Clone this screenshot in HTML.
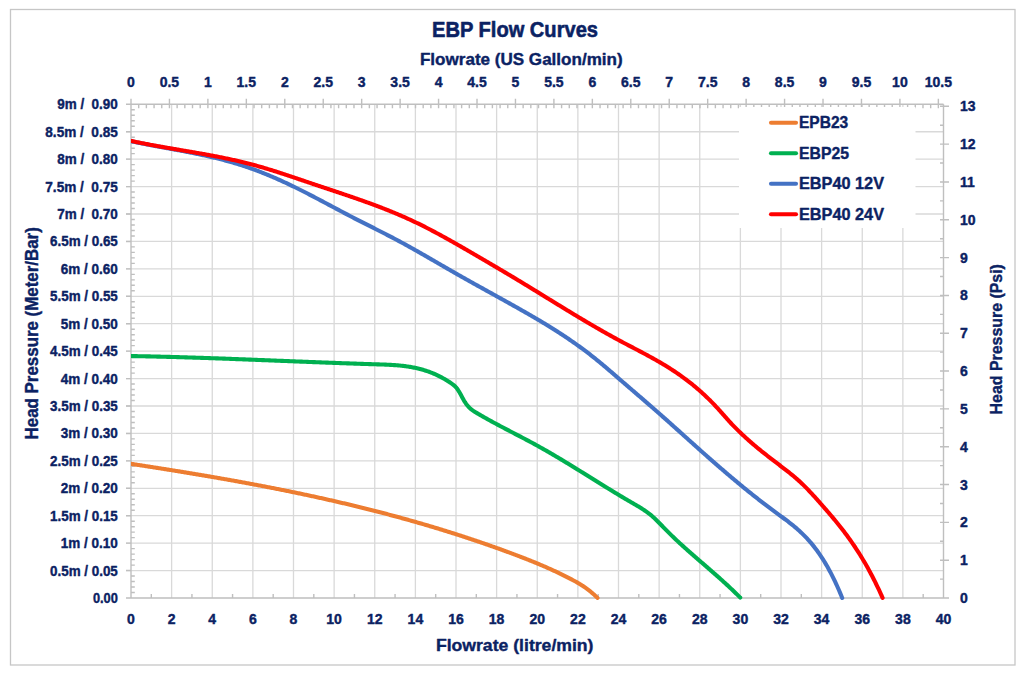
<!DOCTYPE html>
<html><head><meta charset="utf-8"><title>EBP Flow Curves</title>
<style>html,body{margin:0;padding:0;background:#fff;width:1024px;height:675px;overflow:hidden}</style>
</head><body>
<svg width="1024" height="675" viewBox="0 0 1024 675" style="display:block">
<rect x="0" y="0" width="1024" height="675" fill="#fff"/>
<rect x="10.5" y="9.5" width="1004.5" height="655.5" fill="none" stroke="#c6c6c6" stroke-width="1.3"/>
<path d="M171.62 104.30V598.00M212.25 104.30V598.00M252.88 104.30V598.00M293.50 104.30V598.00M334.12 104.30V598.00M374.75 104.30V598.00M415.38 104.30V598.00M456.00 104.30V598.00M496.62 104.30V598.00M537.25 104.30V598.00M577.88 104.30V598.00M618.50 104.30V598.00M659.12 104.30V598.00M699.75 104.30V598.00M740.38 104.30V598.00M781.00 104.30V598.00M821.62 104.30V598.00M862.25 104.30V598.00M902.88 104.30V598.00M126.00 570.57H943.50M126.00 543.14H943.50M126.00 515.72H943.50M126.00 488.29H943.50M126.00 460.86H943.50M126.00 433.43H943.50M126.00 406.01H943.50M126.00 378.58H943.50M126.00 351.15H943.50M126.00 323.72H943.50M126.00 296.29H943.50M126.00 268.87H943.50M126.00 241.44H943.50M126.00 214.01H943.50M126.00 186.58H943.50M126.00 159.16H943.50M126.00 131.73H943.50" stroke="#d9d9d9" stroke-width="1.3" fill="none"/>
<path d="M131.00 103.70V598.60M131.00 592.51h3.8M131.00 587.03h3.8M131.00 581.54h3.8M131.00 576.06h3.8M131.00 565.09h3.8M131.00 559.60h3.8M131.00 554.12h3.8M131.00 548.63h3.8M131.00 537.66h3.8M131.00 532.17h3.8M131.00 526.69h3.8M131.00 521.20h3.8M131.00 510.23h3.8M131.00 504.75h3.8M131.00 499.26h3.8M131.00 493.77h3.8M131.00 482.80h3.8M131.00 477.32h3.8M131.00 471.83h3.8M131.00 466.35h3.8M131.00 455.38h3.8M131.00 449.89h3.8M131.00 444.40h3.8M131.00 438.92h3.8M131.00 427.95h3.8M131.00 422.46h3.8M131.00 416.98h3.8M131.00 411.49h3.8M131.00 400.52h3.8M131.00 395.03h3.8M131.00 389.55h3.8M131.00 384.06h3.8M131.00 373.09h3.8M131.00 367.61h3.8M131.00 362.12h3.8M131.00 356.64h3.8M131.00 345.66h3.8M131.00 340.18h3.8M131.00 334.69h3.8M131.00 329.21h3.8M131.00 318.24h3.8M131.00 312.75h3.8M131.00 307.27h3.8M131.00 301.78h3.8M131.00 290.81h3.8M131.00 285.32h3.8M131.00 279.84h3.8M131.00 274.35h3.8M131.00 263.38h3.8M131.00 257.90h3.8M131.00 252.41h3.8M131.00 246.92h3.8M131.00 235.95h3.8M131.00 230.47h3.8M131.00 224.98h3.8M131.00 219.50h3.8M131.00 208.53h3.8M131.00 203.04h3.8M131.00 197.55h3.8M131.00 192.07h3.8M131.00 181.10h3.8M131.00 175.61h3.8M131.00 170.13h3.8M131.00 164.64h3.8M131.00 153.67h3.8M131.00 148.18h3.8M131.00 142.70h3.8M131.00 137.21h3.8M131.00 126.24h3.8M131.00 120.76h3.8M131.00 115.27h3.8M131.00 109.79h3.8M126.00 598.00H131.00M126.00 570.57H131.00M126.00 543.14H131.00M126.00 515.72H131.00M126.00 488.29H131.00M126.00 460.86H131.00M126.00 433.43H131.00M126.00 406.01H131.00M126.00 378.58H131.00M126.00 351.15H131.00M126.00 323.72H131.00M126.00 296.29H131.00M126.00 268.87H131.00M126.00 241.44H131.00M126.00 214.01H131.00M126.00 186.58H131.00M126.00 159.16H131.00M126.00 131.73H131.00M126.00 104.30H131.00M126.00 598.00H943.50M151.31 598.00v-4M191.94 598.00v-4M232.56 598.00v-4M273.19 598.00v-4M313.81 598.00v-4M354.44 598.00v-4M395.06 598.00v-4M435.69 598.00v-4M476.31 598.00v-4M516.94 598.00v-4M557.56 598.00v-4M598.19 598.00v-4M638.81 598.00v-4M679.44 598.00v-4M720.06 598.00v-4M760.69 598.00v-4M801.31 598.00v-4M841.94 598.00v-4M882.56 598.00v-4M923.19 598.00v-4M131.00 104.30H943.50M131.00 98.80V108.30M138.69 104.30v4M146.38 104.30v4M154.07 104.30v4M161.76 104.30v4M169.45 98.80V108.30M177.13 104.30v4M184.82 104.30v4M192.51 104.30v4M200.20 104.30v4M207.89 98.80V108.30M215.58 104.30v4M223.27 104.30v4M230.96 104.30v4M238.65 104.30v4M246.34 98.80V108.30M254.03 104.30v4M261.71 104.30v4M269.40 104.30v4M277.09 104.30v4M284.78 98.80V108.30M292.47 104.30v4M300.16 104.30v4M307.85 104.30v4M315.54 104.30v4M323.23 98.80V108.30M330.92 104.30v4M338.61 104.30v4M346.30 104.30v4M353.98 104.30v4M361.67 98.80V108.30M369.36 104.30v4M377.05 104.30v4M384.74 104.30v4M392.43 104.30v4M400.12 98.80V108.30M407.81 104.30v4M415.50 104.30v4M423.19 104.30v4M430.88 104.30v4M438.56 98.80V108.30M446.25 104.30v4M453.94 104.30v4M461.63 104.30v4M469.32 104.30v4M477.01 98.80V108.30M484.70 104.30v4M492.39 104.30v4M500.08 104.30v4M507.77 104.30v4M515.46 98.80V108.30M523.14 104.30v4M530.83 104.30v4M538.52 104.30v4M546.21 104.30v4M553.90 98.80V108.30M561.59 104.30v4M569.28 104.30v4M576.97 104.30v4M584.66 104.30v4M592.35 98.80V108.30M600.04 104.30v4M607.73 104.30v4M615.41 104.30v4M623.10 104.30v4M630.79 98.80V108.30M638.48 104.30v4M646.17 104.30v4M653.86 104.30v4M661.55 104.30v4M669.24 98.80V108.30M676.93 104.30v4M684.62 104.30v4M692.31 104.30v4M699.99 104.30v4M707.68 98.80V108.30M715.37 104.30v4M723.06 104.30v4M730.75 104.30v4M738.44 104.30v4M746.13 98.80V108.30M753.82 104.30v4M761.51 104.30v4M769.20 104.30v4M776.89 104.30v4M784.57 98.80V108.30M792.26 104.30v4M799.95 104.30v4M807.64 104.30v4M815.33 104.30v4M823.02 98.80V108.30M830.71 104.30v4M838.40 104.30v4M846.09 104.30v4M853.78 104.30v4M861.47 98.80V108.30M869.15 104.30v4M876.84 104.30v4M884.53 104.30v4M892.22 104.30v4M899.91 98.80V108.30M907.60 104.30v4M915.29 104.30v4M922.98 104.30v4M930.67 104.30v4M938.36 98.80V108.30M943.50 104.30V598.00M940.00 598.00H949.00M940.00 579.09H943.50M940.00 560.18H949.00M940.00 541.27H943.50M940.00 522.36H949.00M940.00 503.45H943.50M940.00 484.54H949.00M940.00 465.62H943.50M940.00 446.71H949.00M940.00 427.80H943.50M940.00 408.89H949.00M940.00 389.98H943.50M940.00 371.07H949.00M940.00 352.16H943.50M940.00 333.25H949.00M940.00 314.34H943.50M940.00 295.43H949.00M940.00 276.52H943.50M940.00 257.61H949.00M940.00 238.69H943.50M940.00 219.78H949.00M940.00 200.87H943.50M940.00 181.96H949.00M940.00 163.05H943.50M940.00 144.14H949.00M940.00 125.23H943.50M940.00 106.32H949.00" stroke="#bfbfbf" stroke-width="1.4" fill="none"/>
<rect x="739" y="107" width="176.5" height="121" fill="#fff"/>
<clipPath id="pc"><rect x="131.00" y="95" width="817.50" height="505.00"/></clipPath>
<g fill="none" stroke-width="4.1" stroke-linecap="round" stroke-linejoin="round" clip-path="url(#pc)">
<path d="M131.00 463.84 L132.00 463.99 L133.00 464.14 L134.00 464.30 L135.00 464.45 L136.00 464.60 L137.00 464.76 L138.00 464.91 L139.00 465.07 L140.00 465.22 L141.00 465.38 L142.00 465.53 L143.00 465.68 L144.00 465.84 L145.00 465.99 L146.00 466.15 L147.00 466.31 L148.00 466.46 L149.00 466.62 L150.00 466.77 L151.00 466.93 L152.00 467.09 L153.00 467.24 L154.00 467.40 L155.00 467.56 L156.00 467.71 L157.00 467.87 L158.00 468.03 L159.00 468.19 L160.00 468.35 L161.00 468.50 L162.00 468.66 L163.00 468.82 L164.00 468.98 L165.00 469.14 L166.00 469.30 L167.00 469.46 L168.00 469.62 L169.00 469.78 L170.00 469.94 L171.00 470.10 L172.00 470.26 L173.00 470.42 L174.00 470.58 L175.00 470.74 L176.00 470.91 L177.00 471.07 L178.00 471.23 L179.00 471.39 L180.00 471.55 L181.00 471.72 L182.00 471.88 L183.00 472.04 L184.00 472.21 L185.00 472.37 L186.00 472.54 L187.00 472.70 L188.00 472.87 L189.00 473.03 L190.00 473.20 L191.00 473.36 L192.00 473.53 L193.00 473.69 L194.00 473.86 L195.00 474.03 L196.00 474.19 L197.00 474.36 L198.00 474.53 L199.00 474.70 L200.00 474.87 L201.00 475.03 L202.00 475.20 L203.00 475.37 L204.00 475.54 L205.00 475.71 L206.00 475.88 L207.00 476.05 L208.00 476.22 L209.00 476.39 L210.00 476.57 L211.00 476.74 L212.00 476.91 L213.00 477.08 L214.00 477.25 L215.00 477.43 L216.00 477.60 L217.00 477.77 L218.00 477.95 L219.00 478.12 L220.00 478.30 L221.00 478.47 L222.00 478.65 L223.00 478.82 L224.00 479.00 L225.00 479.18 L226.00 479.35 L227.00 479.53 L228.00 479.71 L229.00 479.89 L230.00 480.06 L231.00 480.24 L232.00 480.42 L233.00 480.60 L234.00 480.78 L235.00 480.96 L236.00 481.14 L237.00 481.32 L238.00 481.50 L239.00 481.69 L240.00 481.87 L241.00 482.05 L242.00 482.23 L243.00 482.42 L244.00 482.60 L245.00 482.79 L246.00 482.97 L247.00 483.15 L248.00 483.34 L249.00 483.53 L250.00 483.71 L251.00 483.90 L252.00 484.09 L253.00 484.27 L254.00 484.46 L255.00 484.65 L256.00 484.84 L257.00 485.03 L258.00 485.22 L259.00 485.41 L260.00 485.60 L261.00 485.79 L262.00 485.98 L263.00 486.17 L264.00 486.36 L265.00 486.55 L266.00 486.75 L267.00 486.94 L268.00 487.14 L269.00 487.33 L270.00 487.52 L271.00 487.72 L272.00 487.92 L273.00 488.11 L274.00 488.31 L275.00 488.51 L276.00 488.70 L277.00 488.90 L278.00 489.10 L279.00 489.30 L280.00 489.50 L281.00 489.70 L282.00 489.90 L283.00 490.10 L284.00 490.30 L285.00 490.50 L286.00 490.71 L287.00 490.91 L288.00 491.11 L289.00 491.32 L290.00 491.52 L291.00 491.73 L292.00 491.93 L293.00 492.14 L294.00 492.34 L295.00 492.55 L296.00 492.76 L297.00 492.97 L298.00 493.18 L299.00 493.38 L300.00 493.59 L301.00 493.80 L302.00 494.01 L303.00 494.23 L304.00 494.44 L305.00 494.65 L306.00 494.86 L307.00 495.08 L308.00 495.29 L309.00 495.50 L310.00 495.72 L311.00 495.94 L312.00 496.15 L313.00 496.37 L314.00 496.59 L315.00 496.80 L316.00 497.02 L317.00 497.24 L318.00 497.46 L319.00 497.68 L320.00 497.90 L321.00 498.12 L322.00 498.34 L323.00 498.57 L324.00 498.79 L325.00 499.01 L326.00 499.24 L327.00 499.46 L328.00 499.69 L329.00 499.91 L330.00 500.14 L331.00 500.37 L332.00 500.59 L333.00 500.82 L334.00 501.05 L335.00 501.28 L336.00 501.51 L337.00 501.74 L338.00 501.97 L339.00 502.20 L340.00 502.44 L341.00 502.67 L342.00 502.90 L343.00 503.14 L344.00 503.37 L345.00 503.61 L346.00 503.84 L347.00 504.08 L348.00 504.32 L349.00 504.56 L350.00 504.80 L351.00 505.04 L352.00 505.28 L353.00 505.52 L354.00 505.76 L355.00 506.00 L356.00 506.24 L357.00 506.49 L358.00 506.73 L359.00 506.97 L360.00 507.22 L361.00 507.47 L362.00 507.71 L363.00 507.96 L364.00 508.21 L365.00 508.46 L366.00 508.71 L367.00 508.96 L368.00 509.21 L369.00 509.46 L370.00 509.71 L371.00 509.96 L372.00 510.22 L373.00 510.47 L374.00 510.73 L375.00 510.98 L376.00 511.24 L377.00 511.49 L378.00 511.75 L379.00 512.01 L380.00 512.27 L381.00 512.53 L382.00 512.79 L383.00 513.05 L384.00 513.31 L385.00 513.58 L386.00 513.84 L387.00 514.10 L388.00 514.37 L389.00 514.63 L390.00 514.90 L391.00 515.17 L392.00 515.43 L393.00 515.70 L394.00 515.97 L395.00 516.24 L396.00 516.51 L397.00 516.78 L398.00 517.06 L399.00 517.33 L400.00 517.60 L401.00 517.88 L402.00 518.15 L403.00 518.43 L404.00 518.71 L405.00 518.98 L406.00 519.26 L407.00 519.54 L408.00 519.82 L409.00 520.10 L410.00 520.38 L411.00 520.66 L412.00 520.95 L413.00 521.23 L414.00 521.51 L415.00 521.80 L416.00 522.09 L417.00 522.37 L418.00 522.66 L419.00 522.95 L420.00 523.24 L421.00 523.53 L422.00 523.82 L423.00 524.11 L424.00 524.40 L425.00 524.70 L426.00 524.99 L427.00 525.29 L428.00 525.58 L429.00 525.88 L430.00 526.17 L431.00 526.47 L432.00 526.77 L433.00 527.07 L434.00 527.37 L435.00 527.67 L436.00 527.98 L437.00 528.28 L438.00 528.58 L439.00 528.89 L440.00 529.19 L441.00 529.50 L442.00 529.81 L443.00 530.12 L444.00 530.42 L445.00 530.73 L446.00 531.05 L447.00 531.36 L448.00 531.67 L449.00 531.98 L450.00 532.30 L451.00 532.61 L452.00 532.93 L453.00 533.24 L454.00 533.56 L455.00 533.88 L456.00 534.20 L457.00 534.52 L458.00 534.84 L459.00 535.16 L460.00 535.49 L461.00 535.81 L462.00 536.14 L463.00 536.46 L464.00 536.79 L465.00 537.12 L466.00 537.44 L467.00 537.77 L468.00 538.10 L469.00 538.43 L470.00 538.77 L471.00 539.10 L472.00 539.43 L473.00 539.77 L474.00 540.10 L475.00 540.44 L476.00 540.78 L477.00 541.12 L478.00 541.46 L479.00 541.80 L480.00 542.14 L481.00 542.48 L482.00 542.82 L483.00 543.17 L484.00 543.51 L485.00 543.86 L486.00 544.20 L487.00 544.55 L488.00 544.90 L489.00 545.25 L490.00 545.60 L491.00 545.95 L492.00 546.31 L493.00 546.66 L494.00 547.01 L495.00 547.37 L496.00 547.73 L497.00 548.08 L498.00 548.44 L499.00 548.80 L500.00 549.16 L501.00 549.52 L502.00 549.89 L503.00 550.25 L504.00 550.61 L505.00 550.98 L506.00 551.35 L507.00 551.71 L508.00 552.08 L509.00 552.45 L510.00 552.82 L511.00 553.19 L512.00 553.56 L513.00 553.94 L514.00 554.31 L515.00 554.69 L516.00 555.06 L517.00 555.44 L518.00 555.82 L519.00 556.20 L520.00 556.58 L521.00 556.97 L522.00 557.35 L523.00 557.74 L524.00 558.13 L525.00 558.52 L526.00 558.91 L527.00 559.30 L528.00 559.70 L529.00 560.09 L530.00 560.49 L531.00 560.89 L532.00 561.29 L533.00 561.70 L534.00 562.11 L535.00 562.52 L536.00 562.93 L537.00 563.34 L538.00 563.76 L539.00 564.17 L540.00 564.59 L541.00 565.02 L542.00 565.44 L543.00 565.87 L544.00 566.30 L545.00 566.74 L546.00 567.17 L547.00 567.61 L548.00 568.05 L549.00 568.50 L550.00 568.95 L551.00 569.40 L552.00 569.85 L553.00 570.31 L554.00 570.77 L555.00 571.23 L556.00 571.70 L557.00 572.17 L558.00 572.64 L559.00 573.12 L560.00 573.60 L561.00 574.08 L562.00 574.57 L563.00 575.06 L564.00 575.56 L565.00 576.06 L566.00 576.56 L567.00 577.07 L568.00 577.58 L569.00 578.09 L570.00 578.61 L571.00 579.13 L572.00 579.66 L573.00 580.19 L574.00 580.73 L575.00 581.27 L576.00 581.83 L577.00 582.39 L578.00 582.96 L579.00 583.55 L580.00 584.15 L581.00 584.77 L582.00 585.40 L583.00 586.05 L584.00 586.71 L585.00 587.40 L586.00 588.11 L587.00 588.83 L588.00 589.58 L589.00 590.35 L590.00 591.15 L591.00 591.97 L592.00 592.81 L593.00 593.68 L594.00 594.57 L595.00 595.48 L596.00 596.42 L597.00 597.39 L597.50 597.89" stroke="#ed7d31"/>
<path d="M131.00 356.07 L132.00 356.08 L133.00 356.10 L134.00 356.12 L135.00 356.13 L136.00 356.15 L137.00 356.17 L138.00 356.19 L139.00 356.20 L140.00 356.22 L141.00 356.24 L142.00 356.26 L143.00 356.28 L144.00 356.30 L145.00 356.32 L146.00 356.34 L147.00 356.36 L148.00 356.38 L149.00 356.40 L150.00 356.42 L151.00 356.45 L152.00 356.47 L153.00 356.49 L154.00 356.51 L155.00 356.54 L156.00 356.56 L157.00 356.58 L158.00 356.61 L159.00 356.63 L160.00 356.65 L161.00 356.68 L162.00 356.70 L163.00 356.73 L164.00 356.75 L165.00 356.78 L166.00 356.80 L167.00 356.83 L168.00 356.86 L169.00 356.88 L170.00 356.91 L171.00 356.94 L172.00 356.96 L173.00 356.99 L174.00 357.02 L175.00 357.05 L176.00 357.07 L177.00 357.10 L178.00 357.13 L179.00 357.16 L180.00 357.19 L181.00 357.22 L182.00 357.25 L183.00 357.28 L184.00 357.31 L185.00 357.34 L186.00 357.37 L187.00 357.40 L188.00 357.43 L189.00 357.46 L190.00 357.49 L191.00 357.52 L192.00 357.55 L193.00 357.58 L194.00 357.61 L195.00 357.64 L196.00 357.68 L197.00 357.71 L198.00 357.74 L199.00 357.77 L200.00 357.81 L201.00 357.84 L202.00 357.87 L203.00 357.91 L204.00 357.94 L205.00 357.97 L206.00 358.01 L207.00 358.04 L208.00 358.07 L209.00 358.11 L210.00 358.14 L211.00 358.18 L212.00 358.21 L213.00 358.25 L214.00 358.28 L215.00 358.32 L216.00 358.35 L217.00 358.39 L218.00 358.42 L219.00 358.46 L220.00 358.49 L221.00 358.53 L222.00 358.57 L223.00 358.60 L224.00 358.64 L225.00 358.67 L226.00 358.71 L227.00 358.75 L228.00 358.78 L229.00 358.82 L230.00 358.86 L231.00 358.89 L232.00 358.93 L233.00 358.97 L234.00 359.01 L235.00 359.04 L236.00 359.08 L237.00 359.12 L238.00 359.16 L239.00 359.19 L240.00 359.23 L241.00 359.27 L242.00 359.31 L243.00 359.35 L244.00 359.38 L245.00 359.42 L246.00 359.46 L247.00 359.50 L248.00 359.54 L249.00 359.58 L250.00 359.62 L251.00 359.65 L252.00 359.69 L253.00 359.73 L254.00 359.77 L255.00 359.81 L256.00 359.85 L257.00 359.89 L258.00 359.93 L259.00 359.97 L260.00 360.01 L261.00 360.04 L262.00 360.08 L263.00 360.12 L264.00 360.16 L265.00 360.20 L266.00 360.24 L267.00 360.28 L268.00 360.32 L269.00 360.36 L270.00 360.40 L271.00 360.44 L272.00 360.48 L273.00 360.52 L274.00 360.56 L275.00 360.60 L276.00 360.64 L277.00 360.68 L278.00 360.72 L279.00 360.76 L280.00 360.80 L281.00 360.84 L282.00 360.88 L283.00 360.92 L284.00 360.96 L285.00 360.99 L286.00 361.03 L287.00 361.07 L288.00 361.11 L289.00 361.15 L290.00 361.19 L291.00 361.23 L292.00 361.27 L293.00 361.31 L294.00 361.35 L295.00 361.39 L296.00 361.43 L297.00 361.47 L298.00 361.51 L299.00 361.55 L300.00 361.59 L301.00 361.63 L302.00 361.67 L303.00 361.71 L304.00 361.74 L305.00 361.78 L306.00 361.82 L307.00 361.86 L308.00 361.90 L309.00 361.94 L310.00 361.98 L311.00 362.02 L312.00 362.06 L313.00 362.09 L314.00 362.13 L315.00 362.17 L316.00 362.21 L317.00 362.25 L318.00 362.29 L319.00 362.32 L320.00 362.36 L321.00 362.40 L322.00 362.44 L323.00 362.48 L324.00 362.51 L325.00 362.55 L326.00 362.59 L327.00 362.63 L328.00 362.66 L329.00 362.70 L330.00 362.74 L331.00 362.78 L332.00 362.81 L333.00 362.85 L334.00 362.89 L335.00 362.92 L336.00 362.96 L337.00 363.00 L338.00 363.03 L339.00 363.07 L340.00 363.10 L341.00 363.14 L342.00 363.18 L343.00 363.21 L344.00 363.25 L345.00 363.28 L346.00 363.32 L347.00 363.35 L348.00 363.39 L349.00 363.42 L350.00 363.46 L351.00 363.49 L352.00 363.53 L353.00 363.56 L354.00 363.59 L355.00 363.63 L356.00 363.66 L357.00 363.70 L358.00 363.73 L359.00 363.76 L360.00 363.80 L361.00 363.83 L362.00 363.86 L363.00 363.89 L364.00 363.93 L365.00 363.96 L366.00 363.99 L367.00 364.02 L368.00 364.05 L369.00 364.09 L370.00 364.12 L371.00 364.15 L372.00 364.18 L373.00 364.21 L374.00 364.24 L375.00 364.27 L376.00 364.30 L377.00 364.33 L378.00 364.36 L379.00 364.39 L380.00 364.43 L381.00 364.46 L382.00 364.49 L383.00 364.53 L384.00 364.57 L385.00 364.60 L386.00 364.65 L387.00 364.69 L388.00 364.74 L389.00 364.78 L390.00 364.84 L391.00 364.89 L392.00 364.95 L393.00 365.02 L394.00 365.08 L395.00 365.15 L396.00 365.23 L397.00 365.31 L398.00 365.40 L399.00 365.49 L400.00 365.58 L401.00 365.68 L402.00 365.79 L403.00 365.91 L404.00 366.03 L405.00 366.15 L406.00 366.29 L407.00 366.43 L408.00 366.58 L409.00 366.73 L410.00 366.89 L411.00 367.07 L412.00 367.25 L413.00 367.43 L414.00 367.63 L415.00 367.84 L416.00 368.05 L417.00 368.28 L418.00 368.51 L419.00 368.75 L420.00 369.01 L421.00 369.27 L422.00 369.55 L423.00 369.83 L424.00 370.13 L425.00 370.44 L426.00 370.76 L427.00 371.09 L428.00 371.43 L429.00 371.79 L430.00 372.15 L431.00 372.54 L432.00 372.93 L433.00 373.34 L434.00 373.76 L435.00 374.19 L436.00 374.64 L437.00 375.10 L438.00 375.57 L439.00 376.07 L440.00 376.57 L441.00 377.09 L442.00 377.63 L443.00 378.18 L444.00 378.74 L445.00 379.33 L446.00 379.93 L447.00 380.54 L448.00 381.17 L449.00 381.82 L450.00 382.49 L451.00 383.17 L452.00 383.87 L453.00 384.60 L454.00 385.38 L455.00 386.26 L456.00 387.30 L457.00 388.54 L458.00 389.97 L459.00 391.56 L460.00 393.28 L461.00 395.10 L462.00 396.97 L463.00 398.81 L464.00 400.58 L465.00 402.21 L466.00 403.67 L467.00 405.00 L468.00 406.18 L469.00 407.25 L470.00 408.22 L471.00 409.09 L472.00 409.88 L473.00 410.60 L474.00 411.28 L475.00 411.91 L476.00 412.52 L477.00 413.11 L478.00 413.71 L479.00 414.29 L480.00 414.88 L481.00 415.46 L482.00 416.04 L483.00 416.61 L484.00 417.18 L485.00 417.75 L486.00 418.31 L487.00 418.87 L488.00 419.43 L489.00 419.99 L490.00 420.54 L491.00 421.09 L492.00 421.64 L493.00 422.18 L494.00 422.73 L495.00 423.27 L496.00 423.81 L497.00 424.34 L498.00 424.88 L499.00 425.41 L500.00 425.94 L501.00 426.47 L502.00 427.00 L503.00 427.53 L504.00 428.06 L505.00 428.58 L506.00 429.11 L507.00 429.63 L508.00 430.15 L509.00 430.68 L510.00 431.20 L511.00 431.72 L512.00 432.24 L513.00 432.76 L514.00 433.29 L515.00 433.81 L516.00 434.33 L517.00 434.85 L518.00 435.37 L519.00 435.89 L520.00 436.42 L521.00 436.94 L522.00 437.47 L523.00 437.99 L524.00 438.52 L525.00 439.05 L526.00 439.57 L527.00 440.10 L528.00 440.64 L529.00 441.17 L530.00 441.70 L531.00 442.24 L532.00 442.78 L533.00 443.32 L534.00 443.86 L535.00 444.41 L536.00 444.96 L537.00 445.51 L538.00 446.06 L539.00 446.61 L540.00 447.17 L541.00 447.73 L542.00 448.29 L543.00 448.86 L544.00 449.43 L545.00 449.99 L546.00 450.57 L547.00 451.14 L548.00 451.72 L549.00 452.30 L550.00 452.88 L551.00 453.46 L552.00 454.04 L553.00 454.63 L554.00 455.22 L555.00 455.81 L556.00 456.40 L557.00 456.99 L558.00 457.59 L559.00 458.18 L560.00 458.78 L561.00 459.38 L562.00 459.98 L563.00 460.58 L564.00 461.19 L565.00 461.79 L566.00 462.40 L567.00 463.01 L568.00 463.62 L569.00 464.23 L570.00 464.84 L571.00 465.45 L572.00 466.06 L573.00 466.68 L574.00 467.29 L575.00 467.91 L576.00 468.53 L577.00 469.14 L578.00 469.76 L579.00 470.38 L580.00 471.00 L581.00 471.62 L582.00 472.24 L583.00 472.86 L584.00 473.48 L585.00 474.10 L586.00 474.72 L587.00 475.35 L588.00 475.97 L589.00 476.59 L590.00 477.21 L591.00 477.83 L592.00 478.46 L593.00 479.08 L594.00 479.70 L595.00 480.32 L596.00 480.94 L597.00 481.57 L598.00 482.19 L599.00 482.81 L600.00 483.43 L601.00 484.05 L602.00 484.67 L603.00 485.29 L604.00 485.90 L605.00 486.52 L606.00 487.14 L607.00 487.75 L608.00 488.37 L609.00 488.98 L610.00 489.60 L611.00 490.21 L612.00 490.82 L613.00 491.43 L614.00 492.04 L615.00 492.65 L616.00 493.26 L617.00 493.86 L618.00 494.47 L619.00 495.07 L620.00 495.67 L621.00 496.27 L622.00 496.87 L623.00 497.47 L624.00 498.06 L625.00 498.66 L626.00 499.25 L627.00 499.84 L628.00 500.43 L629.00 501.02 L630.00 501.60 L631.00 502.18 L632.00 502.77 L633.00 503.34 L634.00 503.92 L635.00 504.50 L636.00 505.08 L637.00 505.66 L638.00 506.25 L639.00 506.85 L640.00 507.46 L641.00 508.07 L642.00 508.70 L643.00 509.35 L644.00 510.00 L645.00 510.68 L646.00 511.38 L647.00 512.10 L648.00 512.84 L649.00 513.60 L650.00 514.39 L651.00 515.21 L652.00 516.06 L653.00 516.94 L654.00 517.85 L655.00 518.78 L656.00 519.74 L657.00 520.71 L658.00 521.70 L659.00 522.71 L660.00 523.73 L661.00 524.75 L662.00 525.78 L663.00 526.81 L664.00 527.85 L665.00 528.87 L666.00 529.90 L667.00 530.91 L668.00 531.92 L669.00 532.91 L670.00 533.90 L671.00 534.88 L672.00 535.86 L673.00 536.82 L674.00 537.78 L675.00 538.73 L676.00 539.68 L677.00 540.62 L678.00 541.55 L679.00 542.48 L680.00 543.40 L681.00 544.32 L682.00 545.23 L683.00 546.14 L684.00 547.04 L685.00 547.94 L686.00 548.83 L687.00 549.73 L688.00 550.61 L689.00 551.50 L690.00 552.38 L691.00 553.26 L692.00 554.13 L693.00 555.01 L694.00 555.88 L695.00 556.75 L696.00 557.62 L697.00 558.48 L698.00 559.35 L699.00 560.22 L700.00 561.08 L701.00 561.95 L702.00 562.81 L703.00 563.67 L704.00 564.54 L705.00 565.40 L706.00 566.27 L707.00 567.14 L708.00 568.00 L709.00 568.87 L710.00 569.74 L711.00 570.61 L712.00 571.48 L713.00 572.36 L714.00 573.23 L715.00 574.11 L716.00 574.99 L717.00 575.88 L718.00 576.76 L719.00 577.65 L720.00 578.54 L721.00 579.44 L722.00 580.34 L723.00 581.24 L724.00 582.15 L725.00 583.06 L726.00 583.98 L727.00 584.89 L728.00 585.82 L729.00 586.75 L730.00 587.68 L731.00 588.62 L732.00 589.57 L733.00 590.52 L734.00 591.48 L735.00 592.44 L736.00 593.41 L737.00 594.38 L738.00 595.37 L739.00 596.35 L740.00 597.35 L740.20 597.55" stroke="#00b050"/>
<path d="M131.00 141.22 L132.00 141.43 L133.00 141.64 L134.00 141.85 L135.00 142.06 L136.00 142.26 L137.00 142.46 L138.00 142.67 L139.00 142.87 L140.00 143.07 L141.00 143.26 L142.00 143.46 L143.00 143.66 L144.00 143.85 L145.00 144.05 L146.00 144.24 L147.00 144.43 L148.00 144.62 L149.00 144.81 L150.00 145.00 L151.00 145.19 L152.00 145.38 L153.00 145.56 L154.00 145.75 L155.00 145.94 L156.00 146.12 L157.00 146.31 L158.00 146.49 L159.00 146.68 L160.00 146.86 L161.00 147.04 L162.00 147.23 L163.00 147.41 L164.00 147.59 L165.00 147.78 L166.00 147.96 L167.00 148.14 L168.00 148.32 L169.00 148.51 L170.00 148.69 L171.00 148.87 L172.00 149.06 L173.00 149.24 L174.00 149.43 L175.00 149.61 L176.00 149.79 L177.00 149.98 L178.00 150.17 L179.00 150.35 L180.00 150.54 L181.00 150.73 L182.00 150.92 L183.00 151.11 L184.00 151.30 L185.00 151.49 L186.00 151.68 L187.00 151.87 L188.00 152.07 L189.00 152.26 L190.00 152.46 L191.00 152.66 L192.00 152.86 L193.00 153.06 L194.00 153.26 L195.00 153.46 L196.00 153.66 L197.00 153.87 L198.00 154.08 L199.00 154.29 L200.00 154.50 L201.00 154.71 L202.00 154.92 L203.00 155.14 L204.00 155.35 L205.00 155.57 L206.00 155.79 L207.00 156.02 L208.00 156.24 L209.00 156.47 L210.00 156.70 L211.00 156.93 L212.00 157.16 L213.00 157.40 L214.00 157.63 L215.00 157.87 L216.00 158.12 L217.00 158.36 L218.00 158.61 L219.00 158.86 L220.00 159.11 L221.00 159.36 L222.00 159.62 L223.00 159.88 L224.00 160.14 L225.00 160.41 L226.00 160.68 L227.00 160.95 L228.00 161.22 L229.00 161.50 L230.00 161.78 L231.00 162.07 L232.00 162.35 L233.00 162.64 L234.00 162.94 L235.00 163.23 L236.00 163.53 L237.00 163.83 L238.00 164.14 L239.00 164.45 L240.00 164.76 L241.00 165.08 L242.00 165.40 L243.00 165.73 L244.00 166.05 L245.00 166.39 L246.00 166.72 L247.00 167.06 L248.00 167.40 L249.00 167.75 L250.00 168.10 L251.00 168.46 L252.00 168.81 L253.00 169.18 L254.00 169.54 L255.00 169.91 L256.00 170.28 L257.00 170.66 L258.00 171.04 L259.00 171.42 L260.00 171.81 L261.00 172.19 L262.00 172.59 L263.00 172.98 L264.00 173.38 L265.00 173.79 L266.00 174.19 L267.00 174.60 L268.00 175.01 L269.00 175.43 L270.00 175.85 L271.00 176.27 L272.00 176.69 L273.00 177.12 L274.00 177.55 L275.00 177.99 L276.00 178.43 L277.00 178.87 L278.00 179.31 L279.00 179.75 L280.00 180.20 L281.00 180.65 L282.00 181.11 L283.00 181.57 L284.00 182.03 L285.00 182.49 L286.00 182.95 L287.00 183.42 L288.00 183.89 L289.00 184.36 L290.00 184.84 L291.00 185.32 L292.00 185.80 L293.00 186.28 L294.00 186.77 L295.00 187.26 L296.00 187.75 L297.00 188.24 L298.00 188.74 L299.00 189.23 L300.00 189.73 L301.00 190.24 L302.00 190.74 L303.00 191.24 L304.00 191.75 L305.00 192.26 L306.00 192.77 L307.00 193.28 L308.00 193.80 L309.00 194.31 L310.00 194.83 L311.00 195.35 L312.00 195.87 L313.00 196.39 L314.00 196.91 L315.00 197.44 L316.00 197.96 L317.00 198.49 L318.00 199.01 L319.00 199.54 L320.00 200.07 L321.00 200.60 L322.00 201.13 L323.00 201.66 L324.00 202.19 L325.00 202.72 L326.00 203.25 L327.00 203.79 L328.00 204.32 L329.00 204.85 L330.00 205.39 L331.00 205.92 L332.00 206.45 L333.00 206.98 L334.00 207.52 L335.00 208.05 L336.00 208.58 L337.00 209.12 L338.00 209.65 L339.00 210.18 L340.00 210.71 L341.00 211.24 L342.00 211.77 L343.00 212.30 L344.00 212.83 L345.00 213.36 L346.00 213.88 L347.00 214.41 L348.00 214.93 L349.00 215.46 L350.00 215.98 L351.00 216.50 L352.00 217.02 L353.00 217.54 L354.00 218.06 L355.00 218.58 L356.00 219.09 L357.00 219.60 L358.00 220.12 L359.00 220.63 L360.00 221.14 L361.00 221.65 L362.00 222.15 L363.00 222.66 L364.00 223.17 L365.00 223.67 L366.00 224.18 L367.00 224.68 L368.00 225.18 L369.00 225.69 L370.00 226.19 L371.00 226.69 L372.00 227.20 L373.00 227.70 L374.00 228.20 L375.00 228.71 L376.00 229.21 L377.00 229.72 L378.00 230.22 L379.00 230.73 L380.00 231.23 L381.00 231.74 L382.00 232.25 L383.00 232.76 L384.00 233.27 L385.00 233.78 L386.00 234.29 L387.00 234.80 L388.00 235.32 L389.00 235.84 L390.00 236.35 L391.00 236.87 L392.00 237.40 L393.00 237.92 L394.00 238.45 L395.00 238.97 L396.00 239.50 L397.00 240.04 L398.00 240.57 L399.00 241.11 L400.00 241.65 L401.00 242.19 L402.00 242.73 L403.00 243.28 L404.00 243.82 L405.00 244.37 L406.00 244.92 L407.00 245.48 L408.00 246.03 L409.00 246.59 L410.00 247.14 L411.00 247.70 L412.00 248.26 L413.00 248.82 L414.00 249.39 L415.00 249.95 L416.00 250.51 L417.00 251.08 L418.00 251.65 L419.00 252.22 L420.00 252.79 L421.00 253.36 L422.00 253.93 L423.00 254.50 L424.00 255.08 L425.00 255.65 L426.00 256.22 L427.00 256.80 L428.00 257.38 L429.00 257.95 L430.00 258.53 L431.00 259.11 L432.00 259.69 L433.00 260.26 L434.00 260.84 L435.00 261.42 L436.00 262.00 L437.00 262.58 L438.00 263.16 L439.00 263.74 L440.00 264.32 L441.00 264.90 L442.00 265.47 L443.00 266.05 L444.00 266.63 L445.00 267.21 L446.00 267.79 L447.00 268.36 L448.00 268.94 L449.00 269.52 L450.00 270.09 L451.00 270.67 L452.00 271.24 L453.00 271.82 L454.00 272.39 L455.00 272.96 L456.00 273.53 L457.00 274.10 L458.00 274.67 L459.00 275.24 L460.00 275.81 L461.00 276.37 L462.00 276.94 L463.00 277.50 L464.00 278.07 L465.00 278.63 L466.00 279.19 L467.00 279.75 L468.00 280.31 L469.00 280.88 L470.00 281.44 L471.00 281.99 L472.00 282.55 L473.00 283.11 L474.00 283.67 L475.00 284.23 L476.00 284.78 L477.00 285.34 L478.00 285.90 L479.00 286.45 L480.00 287.01 L481.00 287.56 L482.00 288.12 L483.00 288.67 L484.00 289.23 L485.00 289.78 L486.00 290.33 L487.00 290.89 L488.00 291.44 L489.00 292.00 L490.00 292.55 L491.00 293.10 L492.00 293.66 L493.00 294.21 L494.00 294.76 L495.00 295.32 L496.00 295.87 L497.00 296.43 L498.00 296.98 L499.00 297.54 L500.00 298.09 L501.00 298.65 L502.00 299.20 L503.00 299.76 L504.00 300.31 L505.00 300.87 L506.00 301.43 L507.00 301.98 L508.00 302.54 L509.00 303.10 L510.00 303.66 L511.00 304.22 L512.00 304.78 L513.00 305.34 L514.00 305.90 L515.00 306.46 L516.00 307.02 L517.00 307.58 L518.00 308.15 L519.00 308.71 L520.00 309.28 L521.00 309.84 L522.00 310.41 L523.00 310.98 L524.00 311.55 L525.00 312.12 L526.00 312.69 L527.00 313.26 L528.00 313.84 L529.00 314.41 L530.00 314.99 L531.00 315.57 L532.00 316.15 L533.00 316.73 L534.00 317.32 L535.00 317.90 L536.00 318.49 L537.00 319.08 L538.00 319.67 L539.00 320.26 L540.00 320.85 L541.00 321.45 L542.00 322.05 L543.00 322.65 L544.00 323.26 L545.00 323.86 L546.00 324.47 L547.00 325.08 L548.00 325.69 L549.00 326.31 L550.00 326.93 L551.00 327.55 L552.00 328.17 L553.00 328.80 L554.00 329.43 L555.00 330.06 L556.00 330.70 L557.00 331.33 L558.00 331.98 L559.00 332.62 L560.00 333.27 L561.00 333.92 L562.00 334.57 L563.00 335.23 L564.00 335.89 L565.00 336.56 L566.00 337.23 L567.00 337.90 L568.00 338.57 L569.00 339.25 L570.00 339.94 L571.00 340.62 L572.00 341.32 L573.00 342.01 L574.00 342.71 L575.00 343.41 L576.00 344.12 L577.00 344.83 L578.00 345.55 L579.00 346.27 L580.00 346.99 L581.00 347.72 L582.00 348.46 L583.00 349.19 L584.00 349.94 L585.00 350.68 L586.00 351.44 L587.00 352.19 L588.00 352.96 L589.00 353.72 L590.00 354.49 L591.00 355.27 L592.00 356.05 L593.00 356.84 L594.00 357.63 L595.00 358.42 L596.00 359.23 L597.00 360.03 L598.00 360.85 L599.00 361.66 L600.00 362.49 L601.00 363.31 L602.00 364.15 L603.00 364.98 L604.00 365.83 L605.00 366.67 L606.00 367.52 L607.00 368.37 L608.00 369.23 L609.00 370.08 L610.00 370.94 L611.00 371.80 L612.00 372.67 L613.00 373.53 L614.00 374.40 L615.00 375.26 L616.00 376.13 L617.00 377.00 L618.00 377.86 L619.00 378.73 L620.00 379.59 L621.00 380.46 L622.00 381.32 L623.00 382.18 L624.00 383.04 L625.00 383.91 L626.00 384.77 L627.00 385.63 L628.00 386.49 L629.00 387.35 L630.00 388.21 L631.00 389.07 L632.00 389.93 L633.00 390.79 L634.00 391.65 L635.00 392.51 L636.00 393.37 L637.00 394.23 L638.00 395.09 L639.00 395.95 L640.00 396.81 L641.00 397.67 L642.00 398.53 L643.00 399.39 L644.00 400.26 L645.00 401.12 L646.00 401.99 L647.00 402.85 L648.00 403.72 L649.00 404.58 L650.00 405.45 L651.00 406.32 L652.00 407.19 L653.00 408.06 L654.00 408.94 L655.00 409.81 L656.00 410.68 L657.00 411.56 L658.00 412.44 L659.00 413.32 L660.00 414.20 L661.00 415.08 L662.00 415.97 L663.00 416.85 L664.00 417.74 L665.00 418.63 L666.00 419.51 L667.00 420.40 L668.00 421.30 L669.00 422.19 L670.00 423.08 L671.00 423.98 L672.00 424.87 L673.00 425.77 L674.00 426.66 L675.00 427.56 L676.00 428.46 L677.00 429.36 L678.00 430.26 L679.00 431.15 L680.00 432.05 L681.00 432.95 L682.00 433.85 L683.00 434.75 L684.00 435.65 L685.00 436.55 L686.00 437.45 L687.00 438.35 L688.00 439.25 L689.00 440.15 L690.00 441.05 L691.00 441.95 L692.00 442.85 L693.00 443.74 L694.00 444.64 L695.00 445.54 L696.00 446.43 L697.00 447.33 L698.00 448.22 L699.00 449.11 L700.00 450.00 L701.00 450.90 L702.00 451.78 L703.00 452.67 L704.00 453.56 L705.00 454.45 L706.00 455.33 L707.00 456.22 L708.00 457.10 L709.00 457.98 L710.00 458.86 L711.00 459.74 L712.00 460.61 L713.00 461.49 L714.00 462.36 L715.00 463.24 L716.00 464.11 L717.00 464.98 L718.00 465.85 L719.00 466.71 L720.00 467.58 L721.00 468.44 L722.00 469.30 L723.00 470.17 L724.00 471.02 L725.00 471.88 L726.00 472.74 L727.00 473.59 L728.00 474.44 L729.00 475.29 L730.00 476.14 L731.00 476.98 L732.00 477.83 L733.00 478.67 L734.00 479.51 L735.00 480.35 L736.00 481.18 L737.00 482.02 L738.00 482.85 L739.00 483.68 L740.00 484.51 L741.00 485.33 L742.00 486.15 L743.00 486.98 L744.00 487.79 L745.00 488.61 L746.00 489.43 L747.00 490.24 L748.00 491.05 L749.00 491.85 L750.00 492.66 L751.00 493.46 L752.00 494.26 L753.00 495.06 L754.00 495.85 L755.00 496.64 L756.00 497.43 L757.00 498.22 L758.00 499.01 L759.00 499.79 L760.00 500.57 L761.00 501.34 L762.00 502.12 L763.00 502.89 L764.00 503.66 L765.00 504.42 L766.00 505.18 L767.00 505.94 L768.00 506.70 L769.00 507.45 L770.00 508.20 L771.00 508.95 L772.00 509.70 L773.00 510.44 L774.00 511.18 L775.00 511.91 L776.00 512.64 L777.00 513.37 L778.00 514.10 L779.00 514.83 L780.00 515.56 L781.00 516.29 L782.00 517.02 L783.00 517.75 L784.00 518.49 L785.00 519.23 L786.00 519.98 L787.00 520.73 L788.00 521.49 L789.00 522.26 L790.00 523.03 L791.00 523.82 L792.00 524.62 L793.00 525.43 L794.00 526.25 L795.00 527.08 L796.00 527.93 L797.00 528.80 L798.00 529.68 L799.00 530.57 L800.00 531.49 L801.00 532.42 L802.00 533.37 L803.00 534.35 L804.00 535.34 L805.00 536.36 L806.00 537.39 L807.00 538.46 L808.00 539.54 L809.00 540.66 L810.00 541.80 L811.00 542.96 L812.00 544.16 L813.00 545.38 L814.00 546.64 L815.00 547.92 L816.00 549.24 L817.00 550.59 L818.00 551.97 L819.00 553.39 L820.00 554.84 L821.00 556.33 L822.00 557.85 L823.00 559.41 L824.00 561.02 L825.00 562.66 L826.00 564.34 L827.00 566.06 L828.00 567.83 L829.00 569.64 L830.00 571.49 L831.00 573.39 L832.00 575.33 L833.00 577.32 L834.00 579.36 L835.00 581.44 L836.00 583.58 L837.00 585.76 L838.00 588.00 L839.00 590.29 L840.00 592.63 L841.00 595.02 L842.00 597.47 L842.20 597.97" stroke="#4472c4"/>
<path d="M131.00 140.89 L132.00 141.10 L133.00 141.31 L134.00 141.53 L135.00 141.74 L136.00 141.95 L137.00 142.15 L138.00 142.36 L139.00 142.56 L140.00 142.76 L141.00 142.96 L142.00 143.16 L143.00 143.36 L144.00 143.55 L145.00 143.75 L146.00 143.94 L147.00 144.13 L148.00 144.33 L149.00 144.51 L150.00 144.70 L151.00 144.89 L152.00 145.08 L153.00 145.26 L154.00 145.44 L155.00 145.63 L156.00 145.81 L157.00 145.99 L158.00 146.17 L159.00 146.35 L160.00 146.53 L161.00 146.71 L162.00 146.88 L163.00 147.06 L164.00 147.23 L165.00 147.41 L166.00 147.58 L167.00 147.76 L168.00 147.93 L169.00 148.10 L170.00 148.27 L171.00 148.45 L172.00 148.62 L173.00 148.79 L174.00 148.96 L175.00 149.13 L176.00 149.30 L177.00 149.47 L178.00 149.64 L179.00 149.81 L180.00 149.98 L181.00 150.15 L182.00 150.32 L183.00 150.49 L184.00 150.66 L185.00 150.83 L186.00 151.00 L187.00 151.17 L188.00 151.34 L189.00 151.51 L190.00 151.69 L191.00 151.86 L192.00 152.03 L193.00 152.20 L194.00 152.38 L195.00 152.55 L196.00 152.72 L197.00 152.90 L198.00 153.07 L199.00 153.25 L200.00 153.43 L201.00 153.60 L202.00 153.78 L203.00 153.96 L204.00 154.14 L205.00 154.32 L206.00 154.50 L207.00 154.69 L208.00 154.87 L209.00 155.05 L210.00 155.24 L211.00 155.43 L212.00 155.61 L213.00 155.80 L214.00 155.99 L215.00 156.19 L216.00 156.38 L217.00 156.57 L218.00 156.77 L219.00 156.97 L220.00 157.16 L221.00 157.36 L222.00 157.57 L223.00 157.77 L224.00 157.97 L225.00 158.18 L226.00 158.39 L227.00 158.60 L228.00 158.81 L229.00 159.02 L230.00 159.24 L231.00 159.45 L232.00 159.67 L233.00 159.89 L234.00 160.12 L235.00 160.34 L236.00 160.57 L237.00 160.80 L238.00 161.03 L239.00 161.26 L240.00 161.50 L241.00 161.73 L242.00 161.97 L243.00 162.22 L244.00 162.46 L245.00 162.71 L246.00 162.96 L247.00 163.21 L248.00 163.46 L249.00 163.72 L250.00 163.98 L251.00 164.24 L252.00 164.51 L253.00 164.78 L254.00 165.05 L255.00 165.32 L256.00 165.59 L257.00 165.87 L258.00 166.15 L259.00 166.44 L260.00 166.72 L261.00 167.01 L262.00 167.30 L263.00 167.59 L264.00 167.89 L265.00 168.19 L266.00 168.49 L267.00 168.79 L268.00 169.09 L269.00 169.40 L270.00 169.70 L271.00 170.01 L272.00 170.32 L273.00 170.64 L274.00 170.95 L275.00 171.27 L276.00 171.58 L277.00 171.90 L278.00 172.22 L279.00 172.54 L280.00 172.87 L281.00 173.19 L282.00 173.52 L283.00 173.85 L284.00 174.17 L285.00 174.50 L286.00 174.83 L287.00 175.17 L288.00 175.50 L289.00 175.83 L290.00 176.16 L291.00 176.50 L292.00 176.83 L293.00 177.17 L294.00 177.51 L295.00 177.84 L296.00 178.18 L297.00 178.52 L298.00 178.86 L299.00 179.20 L300.00 179.54 L301.00 179.88 L302.00 180.22 L303.00 180.56 L304.00 180.90 L305.00 181.24 L306.00 181.58 L307.00 181.92 L308.00 182.25 L309.00 182.59 L310.00 182.93 L311.00 183.27 L312.00 183.61 L313.00 183.95 L314.00 184.29 L315.00 184.62 L316.00 184.96 L317.00 185.29 L318.00 185.63 L319.00 185.96 L320.00 186.30 L321.00 186.63 L322.00 186.97 L323.00 187.30 L324.00 187.63 L325.00 187.97 L326.00 188.30 L327.00 188.63 L328.00 188.97 L329.00 189.30 L330.00 189.63 L331.00 189.97 L332.00 190.30 L333.00 190.63 L334.00 190.96 L335.00 191.30 L336.00 191.63 L337.00 191.97 L338.00 192.30 L339.00 192.64 L340.00 192.97 L341.00 193.31 L342.00 193.64 L343.00 193.98 L344.00 194.32 L345.00 194.65 L346.00 194.99 L347.00 195.33 L348.00 195.67 L349.00 196.01 L350.00 196.35 L351.00 196.69 L352.00 197.04 L353.00 197.38 L354.00 197.72 L355.00 198.07 L356.00 198.42 L357.00 198.76 L358.00 199.11 L359.00 199.46 L360.00 199.81 L361.00 200.17 L362.00 200.52 L363.00 200.87 L364.00 201.23 L365.00 201.59 L366.00 201.95 L367.00 202.31 L368.00 202.67 L369.00 203.03 L370.00 203.40 L371.00 203.76 L372.00 204.13 L373.00 204.50 L374.00 204.87 L375.00 205.24 L376.00 205.62 L377.00 206.00 L378.00 206.37 L379.00 206.75 L380.00 207.14 L381.00 207.52 L382.00 207.91 L383.00 208.30 L384.00 208.69 L385.00 209.08 L386.00 209.47 L387.00 209.87 L388.00 210.27 L389.00 210.67 L390.00 211.07 L391.00 211.48 L392.00 211.89 L393.00 212.30 L394.00 212.71 L395.00 213.13 L396.00 213.55 L397.00 213.97 L398.00 214.39 L399.00 214.82 L400.00 215.25 L401.00 215.68 L402.00 216.11 L403.00 216.55 L404.00 216.99 L405.00 217.43 L406.00 217.88 L407.00 218.33 L408.00 218.78 L409.00 219.24 L410.00 219.69 L411.00 220.16 L412.00 220.62 L413.00 221.09 L414.00 221.56 L415.00 222.03 L416.00 222.51 L417.00 222.99 L418.00 223.47 L419.00 223.96 L420.00 224.45 L421.00 224.95 L422.00 225.44 L423.00 225.94 L424.00 226.45 L425.00 226.95 L426.00 227.46 L427.00 227.97 L428.00 228.48 L429.00 229.00 L430.00 229.52 L431.00 230.04 L432.00 230.57 L433.00 231.09 L434.00 231.62 L435.00 232.15 L436.00 232.69 L437.00 233.22 L438.00 233.76 L439.00 234.30 L440.00 234.85 L441.00 235.39 L442.00 235.94 L443.00 236.49 L444.00 237.04 L445.00 237.59 L446.00 238.14 L447.00 238.70 L448.00 239.26 L449.00 239.82 L450.00 240.38 L451.00 240.94 L452.00 241.50 L453.00 242.07 L454.00 242.63 L455.00 243.20 L456.00 243.77 L457.00 244.34 L458.00 244.91 L459.00 245.49 L460.00 246.06 L461.00 246.63 L462.00 247.21 L463.00 247.79 L464.00 248.36 L465.00 248.94 L466.00 249.52 L467.00 250.10 L468.00 250.68 L469.00 251.26 L470.00 251.84 L471.00 252.42 L472.00 253.00 L473.00 253.59 L474.00 254.17 L475.00 254.75 L476.00 255.33 L477.00 255.92 L478.00 256.50 L479.00 257.08 L480.00 257.67 L481.00 258.25 L482.00 258.84 L483.00 259.42 L484.00 260.00 L485.00 260.59 L486.00 261.17 L487.00 261.76 L488.00 262.35 L489.00 262.93 L490.00 263.52 L491.00 264.11 L492.00 264.69 L493.00 265.28 L494.00 265.87 L495.00 266.46 L496.00 267.05 L497.00 267.64 L498.00 268.23 L499.00 268.82 L500.00 269.41 L501.00 270.00 L502.00 270.59 L503.00 271.18 L504.00 271.78 L505.00 272.37 L506.00 272.96 L507.00 273.56 L508.00 274.15 L509.00 274.75 L510.00 275.35 L511.00 275.95 L512.00 276.55 L513.00 277.14 L514.00 277.74 L515.00 278.35 L516.00 278.95 L517.00 279.55 L518.00 280.15 L519.00 280.76 L520.00 281.36 L521.00 281.97 L522.00 282.57 L523.00 283.18 L524.00 283.79 L525.00 284.40 L526.00 285.01 L527.00 285.62 L528.00 286.23 L529.00 286.84 L530.00 287.45 L531.00 288.06 L532.00 288.67 L533.00 289.28 L534.00 289.90 L535.00 290.51 L536.00 291.12 L537.00 291.74 L538.00 292.35 L539.00 292.97 L540.00 293.58 L541.00 294.20 L542.00 294.81 L543.00 295.43 L544.00 296.04 L545.00 296.66 L546.00 297.27 L547.00 297.89 L548.00 298.50 L549.00 299.12 L550.00 299.73 L551.00 300.35 L552.00 300.96 L553.00 301.58 L554.00 302.19 L555.00 302.80 L556.00 303.42 L557.00 304.03 L558.00 304.64 L559.00 305.26 L560.00 305.87 L561.00 306.48 L562.00 307.09 L563.00 307.71 L564.00 308.32 L565.00 308.93 L566.00 309.54 L567.00 310.14 L568.00 310.75 L569.00 311.36 L570.00 311.97 L571.00 312.57 L572.00 313.18 L573.00 313.79 L574.00 314.39 L575.00 314.99 L576.00 315.60 L577.00 316.20 L578.00 316.80 L579.00 317.40 L580.00 318.00 L581.00 318.59 L582.00 319.19 L583.00 319.79 L584.00 320.38 L585.00 320.98 L586.00 321.57 L587.00 322.16 L588.00 322.75 L589.00 323.34 L590.00 323.93 L591.00 324.51 L592.00 325.10 L593.00 325.68 L594.00 326.26 L595.00 326.84 L596.00 327.42 L597.00 328.00 L598.00 328.58 L599.00 329.15 L600.00 329.73 L601.00 330.30 L602.00 330.87 L603.00 331.44 L604.00 332.00 L605.00 332.57 L606.00 333.13 L607.00 333.69 L608.00 334.25 L609.00 334.81 L610.00 335.37 L611.00 335.92 L612.00 336.48 L613.00 337.03 L614.00 337.58 L615.00 338.12 L616.00 338.67 L617.00 339.21 L618.00 339.75 L619.00 340.29 L620.00 340.83 L621.00 341.36 L622.00 341.89 L623.00 342.43 L624.00 342.95 L625.00 343.48 L626.00 344.01 L627.00 344.54 L628.00 345.06 L629.00 345.59 L630.00 346.11 L631.00 346.64 L632.00 347.16 L633.00 347.68 L634.00 348.21 L635.00 348.73 L636.00 349.26 L637.00 349.78 L638.00 350.31 L639.00 350.84 L640.00 351.36 L641.00 351.89 L642.00 352.42 L643.00 352.96 L644.00 353.49 L645.00 354.03 L646.00 354.56 L647.00 355.10 L648.00 355.65 L649.00 356.19 L650.00 356.74 L651.00 357.29 L652.00 357.84 L653.00 358.40 L654.00 358.96 L655.00 359.52 L656.00 360.09 L657.00 360.66 L658.00 361.23 L659.00 361.81 L660.00 362.39 L661.00 362.98 L662.00 363.57 L663.00 364.16 L664.00 364.76 L665.00 365.37 L666.00 365.98 L667.00 366.60 L668.00 367.22 L669.00 367.85 L670.00 368.48 L671.00 369.12 L672.00 369.76 L673.00 370.42 L674.00 371.07 L675.00 371.74 L676.00 372.41 L677.00 373.09 L678.00 373.77 L679.00 374.46 L680.00 375.16 L681.00 375.87 L682.00 376.58 L683.00 377.31 L684.00 378.04 L685.00 378.78 L686.00 379.52 L687.00 380.28 L688.00 381.04 L689.00 381.81 L690.00 382.60 L691.00 383.39 L692.00 384.19 L693.00 384.99 L694.00 385.81 L695.00 386.64 L696.00 387.48 L697.00 388.33 L698.00 389.19 L699.00 390.06 L700.00 390.93 L701.00 391.82 L702.00 392.72 L703.00 393.64 L704.00 394.56 L705.00 395.49 L706.00 396.44 L707.00 397.39 L708.00 398.36 L709.00 399.34 L710.00 400.33 L711.00 401.33 L712.00 402.35 L713.00 403.38 L714.00 404.42 L715.00 405.47 L716.00 406.54 L717.00 407.62 L718.00 408.71 L719.00 409.81 L720.00 410.93 L721.00 412.06 L722.00 413.19 L723.00 414.33 L724.00 415.47 L725.00 416.60 L726.00 417.73 L727.00 418.86 L728.00 419.97 L729.00 421.07 L730.00 422.16 L731.00 423.23 L732.00 424.29 L733.00 425.34 L734.00 426.37 L735.00 427.40 L736.00 428.41 L737.00 429.41 L738.00 430.40 L739.00 431.38 L740.00 432.34 L741.00 433.30 L742.00 434.25 L743.00 435.19 L744.00 436.12 L745.00 437.04 L746.00 437.95 L747.00 438.85 L748.00 439.75 L749.00 440.63 L750.00 441.51 L751.00 442.38 L752.00 443.25 L753.00 444.10 L754.00 444.95 L755.00 445.80 L756.00 446.63 L757.00 447.47 L758.00 448.29 L759.00 449.11 L760.00 449.93 L761.00 450.74 L762.00 451.54 L763.00 452.34 L764.00 453.14 L765.00 453.93 L766.00 454.72 L767.00 455.50 L768.00 456.28 L769.00 457.06 L770.00 457.84 L771.00 458.61 L772.00 459.38 L773.00 460.15 L774.00 460.92 L775.00 461.69 L776.00 462.45 L777.00 463.21 L778.00 463.98 L779.00 464.74 L780.00 465.50 L781.00 466.26 L782.00 467.03 L783.00 467.79 L784.00 468.56 L785.00 469.33 L786.00 470.10 L787.00 470.87 L788.00 471.66 L789.00 472.44 L790.00 473.24 L791.00 474.04 L792.00 474.86 L793.00 475.68 L794.00 476.51 L795.00 477.36 L796.00 478.21 L797.00 479.08 L798.00 479.97 L799.00 480.87 L800.00 481.78 L801.00 482.71 L802.00 483.66 L803.00 484.63 L804.00 485.61 L805.00 486.60 L806.00 487.62 L807.00 488.64 L808.00 489.68 L809.00 490.73 L810.00 491.79 L811.00 492.86 L812.00 493.94 L813.00 495.03 L814.00 496.12 L815.00 497.23 L816.00 498.34 L817.00 499.46 L818.00 500.58 L819.00 501.71 L820.00 502.84 L821.00 503.98 L822.00 505.12 L823.00 506.26 L824.00 507.40 L825.00 508.54 L826.00 509.69 L827.00 510.84 L828.00 512.00 L829.00 513.16 L830.00 514.33 L831.00 515.50 L832.00 516.69 L833.00 517.87 L834.00 519.07 L835.00 520.27 L836.00 521.49 L837.00 522.71 L838.00 523.95 L839.00 525.19 L840.00 526.45 L841.00 527.71 L842.00 528.99 L843.00 530.29 L844.00 531.59 L845.00 532.91 L846.00 534.25 L847.00 535.59 L848.00 536.96 L849.00 538.34 L850.00 539.74 L851.00 541.15 L852.00 542.59 L853.00 544.04 L854.00 545.51 L855.00 547.00 L856.00 548.51 L857.00 550.04 L858.00 551.59 L859.00 553.16 L860.00 554.75 L861.00 556.37 L862.00 558.01 L863.00 559.68 L864.00 561.37 L865.00 563.08 L866.00 564.82 L867.00 566.58 L868.00 568.37 L869.00 570.19 L870.00 572.04 L871.00 573.91 L872.00 575.82 L873.00 577.75 L874.00 579.71 L875.00 581.70 L876.00 583.73 L877.00 585.78 L878.00 587.87 L879.00 589.99 L880.00 592.14 L881.00 594.33 L882.00 596.55 L882.60 597.90" stroke="#ff0000"/>
<path d="M771 122.8H796" stroke="#ed7d31"/>
<path d="M771 153.3H796" stroke="#00b050"/>
<path d="M771 183.8H796" stroke="#4472c4"/>
<path d="M771 214.3H796" stroke="#ff0000"/>
</g>
<g font-family="'Liberation Sans', Arial, sans-serif" font-weight="bold" fill="#0b2263" stroke="#0b2263" stroke-width="0.4" stroke-linejoin="round">
<text x="515.0" y="37.3" font-size="22.7" text-anchor="middle" textLength="166.0" lengthAdjust="spacingAndGlyphs" stroke-width="0.6">EBP Flow Curves</text>
<text x="521.3" y="64.8" font-size="17" text-anchor="middle" textLength="202.7" lengthAdjust="spacingAndGlyphs">Flowrate (US Gallon/min)</text>
<text x="514.7" y="651.2" font-size="17" text-anchor="middle" textLength="157.6" lengthAdjust="spacingAndGlyphs">Flowrate (litre/min)</text>
<text x="131.0" y="86.8" font-size="14" text-anchor="middle">0</text>
<text x="169.4" y="86.8" font-size="14" text-anchor="middle">0.5</text>
<text x="207.9" y="86.8" font-size="14" text-anchor="middle">1</text>
<text x="246.3" y="86.8" font-size="14" text-anchor="middle">1.5</text>
<text x="284.8" y="86.8" font-size="14" text-anchor="middle">2</text>
<text x="323.2" y="86.8" font-size="14" text-anchor="middle">2.5</text>
<text x="361.7" y="86.8" font-size="14" text-anchor="middle">3</text>
<text x="400.1" y="86.8" font-size="14" text-anchor="middle">3.5</text>
<text x="438.6" y="86.8" font-size="14" text-anchor="middle">4</text>
<text x="477.0" y="86.8" font-size="14" text-anchor="middle">4.5</text>
<text x="515.5" y="86.8" font-size="14" text-anchor="middle">5</text>
<text x="553.9" y="86.8" font-size="14" text-anchor="middle">5.5</text>
<text x="592.3" y="86.8" font-size="14" text-anchor="middle">6</text>
<text x="630.8" y="86.8" font-size="14" text-anchor="middle">6.5</text>
<text x="669.2" y="86.8" font-size="14" text-anchor="middle">7</text>
<text x="707.7" y="86.8" font-size="14" text-anchor="middle">7.5</text>
<text x="746.1" y="86.8" font-size="14" text-anchor="middle">8</text>
<text x="784.6" y="86.8" font-size="14" text-anchor="middle">8.5</text>
<text x="823.0" y="86.8" font-size="14" text-anchor="middle">9</text>
<text x="861.5" y="86.8" font-size="14" text-anchor="middle">9.5</text>
<text x="899.9" y="86.8" font-size="14" text-anchor="middle">10</text>
<text x="938.4" y="86.8" font-size="14" text-anchor="middle">10.5</text>
<text x="131.0" y="623.9" font-size="14" text-anchor="middle">0</text>
<text x="171.6" y="623.9" font-size="14" text-anchor="middle">2</text>
<text x="212.2" y="623.9" font-size="14" text-anchor="middle">4</text>
<text x="252.9" y="623.9" font-size="14" text-anchor="middle">6</text>
<text x="293.5" y="623.9" font-size="14" text-anchor="middle">8</text>
<text x="334.1" y="623.9" font-size="14" text-anchor="middle">10</text>
<text x="374.8" y="623.9" font-size="14" text-anchor="middle">12</text>
<text x="415.4" y="623.9" font-size="14" text-anchor="middle">14</text>
<text x="456.0" y="623.9" font-size="14" text-anchor="middle">16</text>
<text x="496.6" y="623.9" font-size="14" text-anchor="middle">18</text>
<text x="537.2" y="623.9" font-size="14" text-anchor="middle">20</text>
<text x="577.9" y="623.9" font-size="14" text-anchor="middle">22</text>
<text x="618.5" y="623.9" font-size="14" text-anchor="middle">24</text>
<text x="659.1" y="623.9" font-size="14" text-anchor="middle">26</text>
<text x="699.8" y="623.9" font-size="14" text-anchor="middle">28</text>
<text x="740.4" y="623.9" font-size="14" text-anchor="middle">30</text>
<text x="781.0" y="623.9" font-size="14" text-anchor="middle">32</text>
<text x="821.6" y="623.9" font-size="14" text-anchor="middle">34</text>
<text x="862.2" y="623.9" font-size="14" text-anchor="middle">36</text>
<text x="902.9" y="623.9" font-size="14" text-anchor="middle">38</text>
<text x="943.5" y="623.9" font-size="14" text-anchor="middle">40</text>
<text x="117.8" y="603.0" font-size="14" text-anchor="end" textLength="24.9" lengthAdjust="spacingAndGlyphs">0.00</text>
<text x="117.8" y="575.6" font-size="14" text-anchor="end" textLength="67.8" lengthAdjust="spacingAndGlyphs">0.5m / 0.05</text>
<text x="117.8" y="548.1" font-size="14" text-anchor="end" textLength="57.0" lengthAdjust="spacingAndGlyphs">1m / 0.10</text>
<text x="117.8" y="520.7" font-size="14" text-anchor="end" textLength="67.8" lengthAdjust="spacingAndGlyphs">1.5m / 0.15</text>
<text x="117.8" y="493.3" font-size="14" text-anchor="end" textLength="57.0" lengthAdjust="spacingAndGlyphs">2m / 0.20</text>
<text x="117.8" y="465.9" font-size="14" text-anchor="end" textLength="67.8" lengthAdjust="spacingAndGlyphs">2.5m / 0.25</text>
<text x="117.8" y="438.4" font-size="14" text-anchor="end" textLength="57.0" lengthAdjust="spacingAndGlyphs">3m / 0.30</text>
<text x="117.8" y="411.0" font-size="14" text-anchor="end" textLength="67.8" lengthAdjust="spacingAndGlyphs">3.5m / 0.35</text>
<text x="117.8" y="383.6" font-size="14" text-anchor="end" textLength="57.0" lengthAdjust="spacingAndGlyphs">4m / 0.40</text>
<text x="117.8" y="356.1" font-size="14" text-anchor="end" textLength="67.8" lengthAdjust="spacingAndGlyphs">4.5m / 0.45</text>
<text x="117.8" y="328.7" font-size="14" text-anchor="end" textLength="57.0" lengthAdjust="spacingAndGlyphs">5m / 0.50</text>
<text x="117.8" y="301.3" font-size="14" text-anchor="end" textLength="67.8" lengthAdjust="spacingAndGlyphs">5.5m / 0.55</text>
<text x="117.8" y="273.9" font-size="14" text-anchor="end" textLength="57.0" lengthAdjust="spacingAndGlyphs">6m / 0.60</text>
<text x="117.8" y="246.4" font-size="14" text-anchor="end" textLength="67.8" lengthAdjust="spacingAndGlyphs">6.5m / 0.65</text>
<text x="117.8" y="219.0" font-size="14" text-anchor="end" textLength="60.6" lengthAdjust="spacingAndGlyphs">7m&#160;/&#160;&#160;0.70</text>
<text x="117.8" y="191.6" font-size="14" text-anchor="end" textLength="72.5" lengthAdjust="spacingAndGlyphs">7.5m&#160;/&#160;&#160;0.75</text>
<text x="117.8" y="164.2" font-size="14" text-anchor="end" textLength="60.6" lengthAdjust="spacingAndGlyphs">8m&#160;/&#160;&#160;0.80</text>
<text x="117.8" y="136.7" font-size="14" text-anchor="end" textLength="72.5" lengthAdjust="spacingAndGlyphs">8.5m&#160;/&#160;&#160;0.85</text>
<text x="117.8" y="109.3" font-size="14" text-anchor="end" textLength="60.6" lengthAdjust="spacingAndGlyphs">9m&#160;/&#160;&#160;0.90</text>
<text x="960.0" y="603.0" font-size="14" text-anchor="start">0</text>
<text x="960.0" y="565.2" font-size="14" text-anchor="start">1</text>
<text x="960.0" y="527.4" font-size="14" text-anchor="start">2</text>
<text x="960.0" y="489.5" font-size="14" text-anchor="start">3</text>
<text x="960.0" y="451.7" font-size="14" text-anchor="start">4</text>
<text x="960.0" y="413.9" font-size="14" text-anchor="start">5</text>
<text x="960.0" y="376.1" font-size="14" text-anchor="start">6</text>
<text x="960.0" y="338.2" font-size="14" text-anchor="start">7</text>
<text x="960.0" y="300.4" font-size="14" text-anchor="start">8</text>
<text x="960.0" y="262.6" font-size="14" text-anchor="start">9</text>
<text x="960.0" y="224.8" font-size="14" text-anchor="start">10</text>
<text x="960.0" y="187.0" font-size="14" text-anchor="start">11</text>
<text x="960.0" y="149.1" font-size="14" text-anchor="start">12</text>
<text x="960.0" y="111.3" font-size="14" text-anchor="start">13</text>
<text x="799.0" y="128.4" font-size="17" text-anchor="start" textLength="49.2" lengthAdjust="spacingAndGlyphs">EPB23</text>
<text x="799.0" y="158.9" font-size="17" text-anchor="start" textLength="50.0" lengthAdjust="spacingAndGlyphs">EBP25</text>
<text x="799.0" y="189.4" font-size="17" text-anchor="start" textLength="85.0" lengthAdjust="spacingAndGlyphs">EBP40 12V</text>
<text x="799.0" y="219.9" font-size="17" text-anchor="start" textLength="85.0" lengthAdjust="spacingAndGlyphs">EBP40 24V</text>
<text transform="translate(38.4 439.4) rotate(-90)" font-size="17.6" textLength="212.2" lengthAdjust="spacingAndGlyphs">Head Pressure (Meter/Bar)</text>
<text transform="translate(1002 414.4) rotate(-90)" font-size="17" textLength="150.3" lengthAdjust="spacingAndGlyphs">Head Pressure (Psi)</text>
</g>
</svg>
</body></html>
